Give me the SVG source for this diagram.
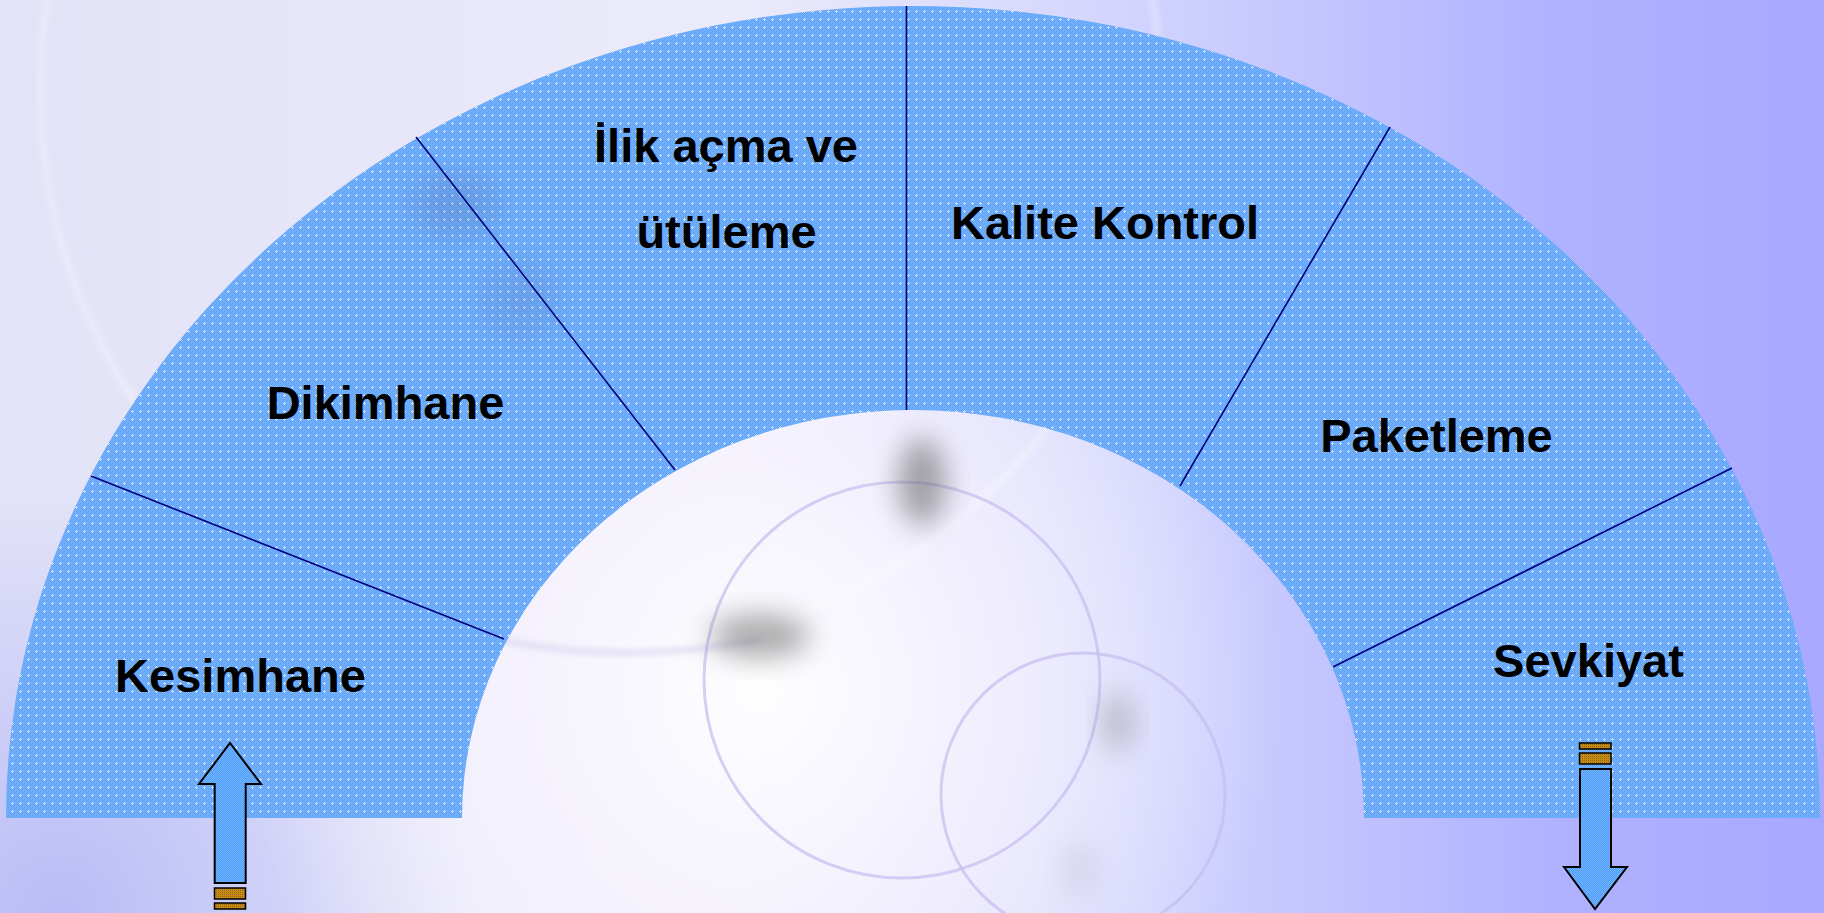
<svg xmlns="http://www.w3.org/2000/svg" width="1824" height="913" viewBox="0 0 1824 913">
  <defs>
    <linearGradient id="bgH" x1="0" y1="0" x2="1" y2="0">
      <stop offset="0" stop-color="#e2e2f8"/>
      <stop offset="0.4" stop-color="#ecebfb"/>
      <stop offset="0.62" stop-color="#d2d4fd"/>
      <stop offset="0.85" stop-color="#b0b2ff"/>
      <stop offset="1" stop-color="#a8a8ff"/>
    </linearGradient>
    <radialGradient id="glow" cx="760" cy="690" r="520" gradientUnits="userSpaceOnUse">
      <stop offset="0" stop-color="#ffffff" stop-opacity="0.95"/>
      <stop offset="0.45" stop-color="#faf6fe" stop-opacity="0.7"/>
      <stop offset="1" stop-color="#ffffff" stop-opacity="0"/>
    </radialGradient>
    <radialGradient id="blBlue" cx="60" cy="913" r="420" gradientUnits="userSpaceOnUse">
      <stop offset="0" stop-color="#b4b8f6" stop-opacity="0.9"/>
      <stop offset="1" stop-color="#b4b8f6" stop-opacity="0"/>
    </radialGradient>
    <pattern id="chk" width="2" height="2" patternUnits="userSpaceOnUse">
      <rect width="2" height="2" fill="#58a0f8"/>
      <rect width="1" height="1" fill="#80b6fa"/>
      <rect x="1" y="1" width="1" height="1" fill="#80b6fa"/>
    </pattern>
    <pattern id="cross" width="8" height="8" patternUnits="userSpaceOnUse">
      <rect x="4" y="2" width="1" height="3" fill="#e0e6ff" opacity="0.8"/>
      <rect x="3" y="3" width="3" height="1" fill="#e0e6ff" opacity="0.8"/>
    </pattern>
    <pattern id="chkArrow" width="2" height="2" patternUnits="userSpaceOnUse">
      <rect width="2" height="2" fill="#4a9cfc"/>
      <rect width="1" height="1" fill="#78b6fc"/>
      <rect x="1" y="1" width="1" height="1" fill="#78b6fc"/>
    </pattern>
    <pattern id="chkOrange" width="2" height="2" patternUnits="userSpaceOnUse">
      <rect width="2" height="2" fill="#c88a10"/>
      <rect width="1" height="1" fill="#8a6a20"/>
    </pattern>
    <filter id="blur" x="-50%" y="-50%" width="200%" height="200%">
      <feGaussianBlur stdDeviation="14"/>
    </filter>
    <filter id="blurS" x="-50%" y="-50%" width="200%" height="200%">
      <feGaussianBlur stdDeviation="3"/>
    </filter>
  </defs>
  <style>
    .lbl { font-family: "Liberation Sans", Arial, sans-serif; font-weight: bold; font-size: 47px; fill: #000000; text-anchor: middle; }
    .div { stroke: #000080; stroke-width: 1.6; fill: none; }
    .arrow { fill: url(#chkArrow); stroke: #000000; stroke-width: 2; stroke-linejoin: miter; }
    .stub { fill: url(#chkOrange); stroke: #000000; stroke-width: 1.5; }
    .ring { fill: none; stroke: #c4bcee; stroke-width: 3; opacity: 0.7; }
  </style>

  <!-- background -->
  <g id="background">
    <rect width="1824" height="913" fill="url(#bgH)"/>
    <rect width="1824" height="913" fill="url(#blBlue)"/>
    <rect width="1824" height="913" fill="url(#glow)"/>
    <line x1="625" y1="0" x2="625" y2="110" stroke="#c6c6ea" stroke-width="4" opacity="0.6" filter="url(#blurS)"/>
    <circle cx="600" cy="90" r="560" fill="none" stroke="#ffffff" stroke-width="6" opacity="0.35" filter="url(#blurS)"/>
    <path d="M 500 640 Q 620 665 760 640" fill="none" stroke="#c8c2e8" stroke-width="5" opacity="0.6" filter="url(#blurS)"/>
    <circle class="ring" cx="902" cy="680" r="198"/>
    <circle class="ring" cx="1083" cy="795" r="142"/>
    <ellipse cx="922" cy="482" rx="24" ry="44" fill="#6a6a6a" opacity="0.6" filter="url(#blur)"/>
    <ellipse cx="760" cy="636" rx="50" ry="22" fill="#6a6a6a" opacity="0.55" filter="url(#blur)"/>
    <ellipse cx="1118" cy="722" rx="16" ry="30" fill="#808080" opacity="0.4" filter="url(#blur)"/>
    <ellipse cx="1080" cy="870" rx="18" ry="26" fill="#9090a0" opacity="0.18" filter="url(#blur)"/>
  </g>

  <!-- arch -->
  <g id="arch">
    <path d="M 6 818 A 907 812 0 0 1 1820 818 L 1364 818 A 451 408 0 0 0 462 818 Z" fill="url(#chk)"/>
    <path d="M 6 818 A 907 812 0 0 1 1820 818 L 1364 818 A 451 408 0 0 0 462 818 Z" fill="url(#cross)"/>
    <ellipse cx="455" cy="205" rx="45" ry="32" fill="#506090" opacity="0.18" filter="url(#blur)"/>
    <ellipse cx="520" cy="300" rx="40" ry="40" fill="#506090" opacity="0.12" filter="url(#blur)"/>
  </g>

  <g id="node-kesimhane"><text class="lbl" x="240.5" y="692">Kesimhane</text></g>
  <g id="node-dikimhane"><text class="lbl" x="385.5" y="419">Dikimhane</text></g>
  <g id="node-ilik">
    <text class="lbl" x="726" y="162">İlik açma ve</text>
    <text class="lbl" x="726.5" y="248">ütüleme</text>
  </g>
  <g id="node-kalite"><text class="lbl" x="1105" y="239">Kalite Kontrol</text></g>
  <g id="node-paketleme"><text class="lbl" x="1436.5" y="452">Paketleme</text></g>
  <g id="node-sevkiyat"><text class="lbl" x="1588.5" y="677">Sevkiyat</text></g>

  <g id="connectors">
    <line class="div" x1="91" y1="476" x2="504" y2="639"/>
    <line class="div" x1="416" y1="137" x2="675" y2="470"/>
    <line class="div" x1="906.5" y1="6" x2="906.5" y2="410"/>
    <line class="div" x1="1390" y1="127" x2="1180" y2="486"/>
    <line class="div" x1="1732" y1="468" x2="1333" y2="667"/>

    <g id="arrow-in">
      <polygon class="arrow" points="230,743 261,784 245.7,784 245.7,883 214.7,883 214.7,784 199,784"/>
      <rect class="stub" x="214.5" y="888" width="31" height="11"/>
      <rect class="stub" x="214.5" y="903" width="31" height="6"/>
    </g>
    <g id="arrow-out">
      <rect class="stub" x="1579.5" y="743" width="31.5" height="6"/>
      <rect class="stub" x="1579.5" y="753" width="31.5" height="11"/>
      <polygon class="arrow" points="1580,769 1611,769 1611,867 1627,867 1595,909 1564,867 1580,867"/>
    </g>
  </g>
</svg>
